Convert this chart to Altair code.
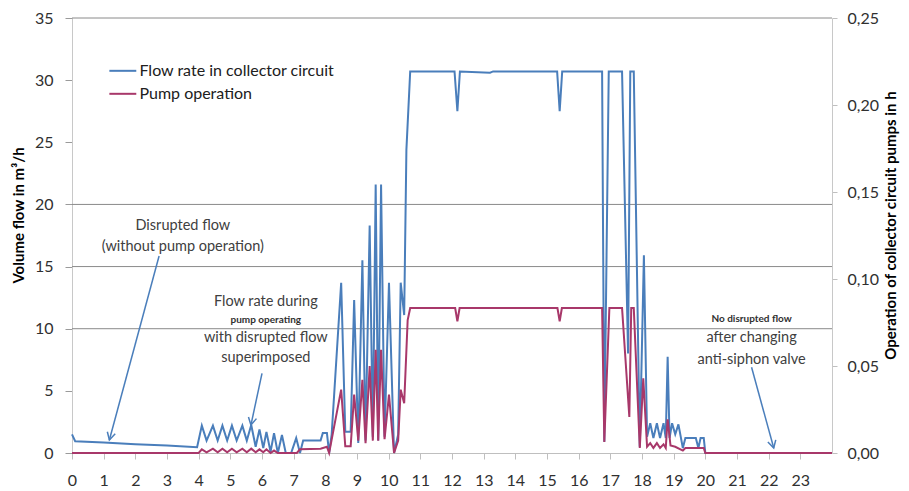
import altair as alt
import pandas as pd

# ---- data ----
flow_t = [0, 0.1, 1, 2, 3, 3.95,
          4.1, 4.25, 4.45, 4.6, 4.75, 4.9, 5.05, 5.2, 5.38, 5.52, 5.66, 5.8, 5.92, 6.04, 6.14, 6.27,
          6.38, 6.5, 6.63, 6.75, 6.92, 7.08, 7.2, 7.3, 7.85, 7.92, 8.05, 8.12, 8.2,
          8.5, 8.63, 8.8, 8.91, 9.04, 9.17, 9.27, 9.4, 9.5, 9.59, 9.67, 9.76, 9.87, 10.01, 10.17,
          10.3, 10.38, 10.49, 10.56, 10.68, 12.08, 12.17, 12.25, 13.2, 13.3, 15.32, 15.4, 15.48,
          16.74, 16.81, 16.95, 17.37, 17.56, 17.63, 17.74, 17.93, 18.06, 18.16, 18.26, 18.36,
          18.47, 18.57, 18.68, 18.75, 18.81, 18.87, 18.95, 19.05, 19.15, 19.29, 19.37, 19.7,
          19.78, 19.85, 19.95, 20.0, 24]
flow_v = [1.5, 0.95, 0.85, 0.7, 0.6, 0.46,
          2.2, 1.0, 2.2, 1.0, 2.2, 1.0, 2.2, 1.0, 2.2, 1.0, 2.25, 0.5, 1.9, 0.4, 1.7, 0.1,
          1.6, 0.0, 1.45, 0.0, 0.0, 1.2, 0.0, 1.0, 1.0, 1.6, 1.6, 0.0, 1.5,
          13.7, 1.7, 1.7, 12.3, 0.8, 15.5, 1.0, 18.3, 1.3, 21.6, 1.0, 21.6, 1.3, 13.7, 0.0,
          1.5, 13.7, 11.1, 24.4, 30.7, 30.7, 27.5, 30.7, 30.6, 30.7, 30.7, 27.5, 30.7,
          30.7, 0.9, 30.7, 30.7, 8.0, 30.7, 30.7, 0.5, 15.9, 1.3, 2.4, 1.2,
          2.4, 1.2, 2.4, 1.2, 7.75, 1.2, 2.4, 1.5, 2.3, 0.4, 1.2, 1.2,
          0.4, 1.2, 1.2, 0.0, 0.0]

pump_t = [0, 4.0, 4.1, 4.25, 4.45, 4.6, 4.75, 4.9, 5.05, 5.2, 5.38, 5.52, 5.66, 5.8, 5.92, 6.04,
          6.14, 6.27, 6.38, 6.5, 7.1, 7.2, 7.85, 8.05, 8.12, 8.5, 8.63, 8.8, 8.91, 9.04, 9.17,
          9.27, 9.4, 9.5, 9.59, 9.67, 9.76, 9.87, 10.01, 10.17, 10.3, 10.38, 10.49, 10.6, 10.68,
          12.1, 12.17, 12.24, 15.33, 15.4, 15.47, 16.74, 16.81, 16.97, 17.37, 17.6, 17.66, 17.74,
          17.93, 18.04, 18.16, 18.26, 18.36, 18.47, 18.57, 18.68, 18.75, 18.81, 18.9, 19.05,
          19.29, 19.37, 19.95, 20.0, 24]
pump_h = [0, 0, 0.0021, 0.0004, 0.0025, 0.0004, 0.0025, 0.0004, 0.0025, 0.0004, 0.0025, 0.0004,
          0.0025, 0.0004, 0.0021, 0.0004, 0.0021, 0.0, 0.0014, 0.0, 0.0, 0.0021, 0.0025, 0.0036,
          0.0, 0.0364, 0.0039, 0.0039, 0.0336, 0.0071, 0.0421, 0.0057, 0.05, 0.0071, 0.0593,
          0.0071, 0.0593, 0.0079, 0.0336, 0.0, 0.0071, 0.0364, 0.0286, 0.0764, 0.0833,
          0.0833, 0.0757, 0.0833, 0.0833, 0.0757, 0.0833, 0.0833, 0.0064, 0.0833, 0.0833, 0.0207,
          0.0833, 0.0833, 0.0029, 0.0429, 0.0036, 0.0057, 0.0029, 0.0057, 0.0029, 0.005, 0.0029,
          0.0193, 0.0043, 0.0036, 0.0014, 0.0029, 0.0029, 0.0, 0.0]

series_names = ["Flow rate in collector circuit", "Pump operation"]
series_colors = ["#4a7ebb", "#a8386a"]

grid_values = [10, 15, 20, 35]
x_ticks = list(range(0, 24))
left_ticks = [0, 5, 10, 15, 20, 25, 30, 35]
right_ticks = [0, 0.05, 0.10, 0.15, 0.20, 0.25]

# legend placement (in chart units of the left axis)
legend_t1 = [1.18, 1.18]
legend_t2 = [2.03, 2.03]
legend_tt = [2.13, 2.13]
legend_v = [30.75, 28.9]

note_text = ["Disrupted flow", "(without  pump operation)",
             "Flow rate during", "with disrupted flow", "superimposed",
             "after changing", "anti-siphon valve"]
note_t = [3.5, 3.5, 6.12, 6.12, 6.12, 21.46, 21.46]
note_v = [18.26, 16.55, 12.17, 9.25, 7.64, 9.25, 7.48]

small_text = ["pump operating", "No disrupted flow"]
small_t = [6.12, 21.46]
small_v = [10.7, 10.78]

arrow_t1 = [2.75, 6.0, 21.46]
arrow_v1 = [15.85, 6.4, 6.9]
arrow_t2 = [1.18, 5.65, 22.16]
arrow_v2 = [1.05, 2.25, 0.4]
arrow_angle = [15, 12, 345]

# ---- frames ----
flow_df = pd.DataFrame({"t": flow_t, "v": flow_v, "series": series_names[0]})
pump_df = pd.DataFrame({"t": pump_t, "h": pump_h, "series": series_names[1]})
grid_df = pd.DataFrame({"v": grid_values})
legend_df = pd.DataFrame({"t": legend_t1, "t2": legend_t2, "tt": legend_tt, "v": legend_v,
                          "series": series_names})
note_df = pd.DataFrame({"t": note_t, "v": note_v, "text": note_text})
small_df = pd.DataFrame({"t": small_t, "v": small_v, "text": small_text})
arrow_df = pd.DataFrame({"t": arrow_t1, "v": arrow_v1, "t2": arrow_t2, "v2": arrow_v2,
                         "angle": arrow_angle})

FONT = "Lato"
TXT = "#303030"
xscale = alt.Scale(domain=[0, 24], nice=False, zero=False)
yscale = alt.Scale(domain=[0, 35], nice=False)
cscale = alt.Scale(domain=series_names, range=series_colors)

x_axis = alt.Axis(values=x_ticks, grid=False, tickSize=6, tickColor="#bfbfbf",
                  domainColor="#bfbfbf", labelFontSize=16, labelFont=FONT,
                  labelColor=TXT, labelPadding=13, title=None, labelFlush=False,
                  labelOverlap=False)

left_axis = alt.Axis(values=left_ticks, grid=False, title="Volume flow in m³/h",
                     titleFont=FONT, titleFontSize=15, titleFontWeight="bold",
                     titleColor="#000000", titleX=-54, titleY=197, titleAngle=270,
                     titleAlign="center", titleBaseline="middle",
                     labelFontSize=16, labelFont=FONT, labelColor=TXT,
                     tickSize=7, tickColor="#9a9a9a", domainColor="#c8c8c8",
                     labelPadding=12)

grid = alt.Chart(grid_df).mark_rule(color="#8a8a8a", strokeWidth=1).encode(
    y=alt.Y("v:Q", scale=yscale, axis=left_axis))

flow_line = alt.Chart(flow_df).mark_line(strokeWidth=2, interpolate="linear").encode(
    x=alt.X("t:Q", scale=xscale, axis=x_axis),
    y=alt.Y("v:Q", scale=yscale, axis=left_axis),
    color=alt.Color("series:N", scale=cscale, legend=None))

legend_lines = alt.Chart(legend_df).mark_rule(strokeWidth=2).encode(
    x=alt.X("t:Q", scale=xscale, axis=x_axis), x2="t2:Q",
    y=alt.Y("v:Q", scale=yscale, axis=left_axis),
    color=alt.Color("series:N", scale=cscale, legend=None))

legend_text = alt.Chart(legend_df).mark_text(font=FONT, fontSize=16, color="#202020",
                                             align="left", baseline="middle").encode(
    x=alt.X("tt:Q", scale=xscale, axis=x_axis),
    y=alt.Y("v:Q", scale=yscale, axis=left_axis),
    text="series:N")

notes = alt.Chart(note_df).mark_text(font=FONT, color="#404040", baseline="middle",
                                     align="center", fontSize=14.5).encode(
    x=alt.X("t:Q", scale=xscale, axis=x_axis),
    y=alt.Y("v:Q", scale=yscale, axis=left_axis),
    text="text:N")

small_notes = alt.Chart(small_df).mark_text(font=FONT, color="#303030", baseline="middle",
                                            align="center", fontSize=10,
                                            fontWeight="bold").encode(
    x=alt.X("t:Q", scale=xscale, axis=x_axis),
    y=alt.Y("v:Q", scale=yscale, axis=left_axis),
    text="text:N")

arrows = alt.Chart(arrow_df).mark_rule(color="#4a7ebb", strokeWidth=1.5).encode(
    x=alt.X("t:Q", scale=xscale, axis=x_axis), y=alt.Y("v:Q", scale=yscale, axis=left_axis),
    x2="t2:Q", y2="v2:Q")

heads = alt.Chart(arrow_df).mark_point(
    shape="M -0.55 -1 L 0 0 L 0.55 -1", filled=False, color="#4a7ebb",
    strokeWidth=1.5, size=220, opacity=1).encode(
    x=alt.X("t2:Q", scale=xscale, axis=x_axis), y=alt.Y("v2:Q", scale=yscale, axis=left_axis),
    angle=alt.Angle("angle:Q", scale=None))

left_layer = alt.layer(grid, flow_line, legend_lines, legend_text, notes, small_notes,
                       arrows, heads)

pump_line = alt.Chart(pump_df).mark_line(strokeWidth=2).encode(
    x=alt.X("t:Q", scale=xscale, axis=x_axis),
    y=alt.Y("h:Q", scale=alt.Scale(domain=[0, 0.25], nice=False),
            axis=alt.Axis(orient="right", values=right_ticks, grid=False,
                          labelExpr="replace(format(datum.value, '.2f'), '.', ',')",
                          title="Operation of collector circuit pumps in h",
                          titleFont=FONT, titleFontSize=15, titleFontWeight="bold",
                          titleColor="#000000", titleX=58, titleY=207, titleAngle=270,
                          titleAlign="center", titleBaseline="middle",
                          labelFontSize=16, labelFont=FONT, labelColor=TXT,
                          tickSize=5, tickColor="#bfbfbf", domainColor="#c8c8c8",
                          labelPadding=10)),
    color=alt.Color("series:N", scale=cscale, legend=None))

chart = alt.layer(left_layer, pump_line).resolve_scale(y="independent").properties(
    width=760, height=435,
    padding={"left": 64, "top": 10, "right": 69, "bottom": 38},
    autosize=alt.AutoSizeParams(type="none"),
    background="white",
).configure_view(strokeWidth=0)

chart.save("out.html", embed_options={"renderer": "svg", "actions": False})
